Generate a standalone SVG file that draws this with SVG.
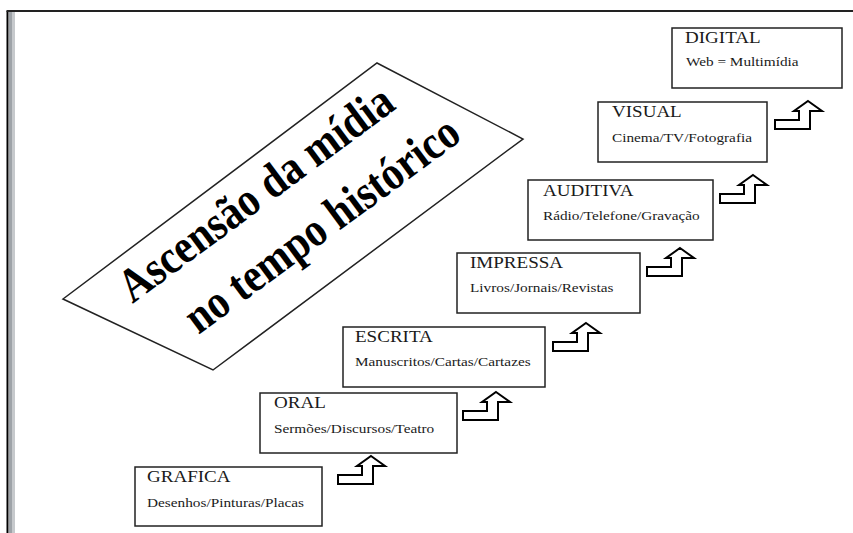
<svg xmlns="http://www.w3.org/2000/svg" xmlns:xlink="http://www.w3.org/1999/xlink" width="853" height="533" viewBox="0 0 853 533">
<style>
.box{fill:#fff;stroke:#222;stroke-width:1.5}
.arr{fill:#fff;stroke:#000;stroke-width:2;stroke-linejoin:miter}
</style>
<defs>
<path id="arrow" class="arr" d="M33,0 L47,10 L35,10 L35,28 L0,28 L0,19 L24,19 L24,10 L19,10 Z"/>
</defs>
<rect x="0" y="0" width="853" height="533" fill="#fff"/>
<g id="frame">
<rect x="9" y="12" width="3" height="521" fill="#9ea3a8"/>
<rect x="12" y="12" width="3" height="521" fill="#c6c9cc"/>
<line x1="7.5" y1="11" x2="7.5" y2="533" stroke="#000" stroke-width="2"/>
<line x1="6.5" y1="11" x2="853" y2="11" stroke="#222" stroke-width="2"/>
</g>
<g id="title">
<polygon points="377,63 523,139 213,370 63,299" fill="#fff" stroke="#222" stroke-width="1.5"/>
<text font-family="Liberation Serif" font-size="41.5" font-weight="bold" fill="#000" text-anchor="middle" transform="translate(265,206) rotate(-36.5) scale(1,1.15)">Ascensão da mídia</text>
<text font-family="Liberation Serif" font-size="41.5" font-weight="bold" fill="#000" text-anchor="middle" transform="translate(331,237) rotate(-36.5) scale(1,1.15)">no tempo histórico</text>
</g>
<g id="grafica">
<rect class="box" x="135" y="467" width="187" height="59"/>
<text font-family="Liberation Serif" font-size="17" fill="#1a1a1a" transform="translate(147,482) scale(1.12,1)">GRAFICA</text>
<text font-family="Liberation Serif" font-size="11.5" fill="#1a1a1a" transform="translate(147,507) scale(1.33,1)">Desenhos/Pinturas/Placas</text>
</g>
<g id="oral">
<rect class="box" x="260" y="393" width="197" height="60"/>
<text font-family="Liberation Serif" font-size="17" fill="#1a1a1a" transform="translate(274,408) scale(1.12,1)">ORAL</text>
<text font-family="Liberation Serif" font-size="11.5" fill="#1a1a1a" transform="translate(274,433) scale(1.33,1)">Sermões/Discursos/Teatro</text>
</g>
<g id="escrita">
<rect class="box" x="343" y="327" width="202" height="60"/>
<text font-family="Liberation Serif" font-size="17" fill="#1a1a1a" transform="translate(355,342) scale(1.12,1)">ESCRITA</text>
<text font-family="Liberation Serif" font-size="11.5" fill="#1a1a1a" transform="translate(355,366) scale(1.33,1)">Manuscritos/Cartas/Cartazes</text>
</g>
<g id="impressa">
<rect class="box" x="457" y="253" width="183" height="60"/>
<text font-family="Liberation Serif" font-size="17" fill="#1a1a1a" transform="translate(470,268) scale(1.12,1)">IMPRESSA</text>
<text font-family="Liberation Serif" font-size="11.5" fill="#1a1a1a" transform="translate(470,292) scale(1.33,1)">Livros/Jornais/Revistas</text>
</g>
<g id="auditiva">
<rect class="box" x="528" y="180" width="185" height="60"/>
<text font-family="Liberation Serif" font-size="17" fill="#1a1a1a" transform="translate(543,196) scale(1.12,1)">AUDITIVA</text>
<text font-family="Liberation Serif" font-size="11.5" fill="#1a1a1a" transform="translate(543,220) scale(1.33,1)">Rádio/Telefone/Gravação</text>
</g>
<g id="visual">
<rect class="box" x="598" y="102" width="169" height="60"/>
<text font-family="Liberation Serif" font-size="17" fill="#1a1a1a" transform="translate(612,117) scale(1.12,1)">VISUAL</text>
<text font-family="Liberation Serif" font-size="11.5" fill="#1a1a1a" transform="translate(612,142) scale(1.33,1)">Cinema/TV/Fotografia</text>
</g>
<g id="digital">
<rect class="box" x="672" y="28" width="170" height="60"/>
<text font-family="Liberation Serif" font-size="17" fill="#1a1a1a" transform="translate(685,43) scale(1.12,1)">DIGITAL</text>
<text font-family="Liberation Serif" font-size="11.5" fill="#1a1a1a" transform="translate(686,66) scale(1.33,1)">Web = Multimídia</text>
</g>
<g id="connectors">
<use xlink:href="#arrow" href="#arrow" transform="translate(338,456)"/>
<use xlink:href="#arrow" href="#arrow" transform="translate(463,392)"/>
<use xlink:href="#arrow" href="#arrow" transform="translate(553,323)"/>
<use xlink:href="#arrow" href="#arrow" transform="translate(647,248)"/>
<use xlink:href="#arrow" href="#arrow" transform="translate(720,175)"/>
<use xlink:href="#arrow" href="#arrow" transform="translate(775,101)"/>
</g>
</svg>
